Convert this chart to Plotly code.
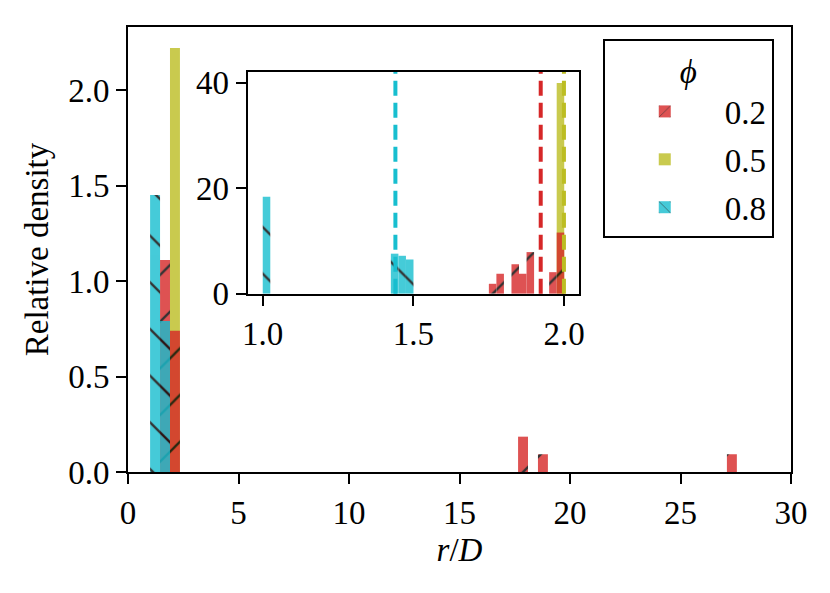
import plotly.graph_objects as go

# ---------------- data ----------------
phi_labels = ["0.2", "0.5", "0.8"]
colors = ["#d62728", "#bcbd22", "#17becf"]
hatches = ["/", "", "\\"]

# main histogram (shared bin width)
main_bin_width = 0.45
red_main_left = [1.45, 1.90, 17.65, 18.55, 27.10]
red_main_h = [1.11, 0.74, 0.185, 0.093, 0.093]
yellow_main_left = [1.90]
yellow_main_h = [2.22]
cyan_main_left = [1.00, 1.45]
cyan_main_h = [1.45, 0.79]

# inset histogram
inset_bin_width = 0.025
red_in_left = [1.75, 1.775, 1.825, 1.85, 1.875, 1.95, 1.975]
red_in_h = [1.9, 3.8, 5.6, 3.8, 7.9, 4.1, 11.6]
yellow_in_left = [1.975]
yellow_in_h = [39.9]
cyan_in_left = [1.0, 1.425, 1.45, 1.475]
cyan_in_h = [18.4, 7.6, 7.2, 6.5]

# means (dashed lines in inset)
means = [1.922, 1.999, 1.440]

x_ticks_main = [0, 5, 10, 15, 20, 25, 30]
y_ticks_main = [0.0, 0.5, 1.0, 1.5, 2.0]
x_ticks_in = [1.0, 1.5, 2.0]
y_ticks_in = [0, 20, 40]

FONT = "Liberation Serif"
FS = 33

main_series = [(red_main_left, red_main_h), (yellow_main_left, yellow_main_h), (cyan_main_left, cyan_main_h)]
inset_series = [(red_in_left, red_in_h), (yellow_in_left, yellow_in_h), (cyan_in_left, cyan_in_h)]


def pattern(i):
    if hatches[i]:
        return dict(shape=hatches[i], fgcolor="black", fgopacity=1, size=33, solidity=0.07)
    return dict(shape="")


fig = go.Figure()

# draw order: yellow, red, cyan (red over yellow, cyan over red)
order = [1, 0, 2]
for i in order:
    left, h = main_series[i]
    fig.add_trace(go.Bar(
        x=[l + main_bin_width / 2 for l in left], y=h, width=main_bin_width,
        marker=dict(color=colors[i], line=dict(width=0), pattern=pattern(i)),
        opacity=0.8, name=phi_labels[i], legendgroup=phi_labels[i], legendrank=i + 1,
        xaxis="x", yaxis="y", showlegend=True,
    ))
for i in order:
    left, h = inset_series[i]
    fig.add_trace(go.Bar(
        x=[l + inset_bin_width / 2 for l in left], y=h, width=inset_bin_width,
        marker=dict(color=colors[i], line=dict(width=0), pattern=pattern(i)),
        opacity=0.8, name=phi_labels[i], legendgroup=phi_labels[i],
        xaxis="x2", yaxis="y2", showlegend=False,
    ))

for i in range(3):
    fig.add_shape(type="line", xref="x2", yref="y2 domain", x0=means[i], x1=means[i], y0=0, y1=1,
                  line=dict(color=colors[i], width=4, dash="15px,7px"))

axis_common = dict(showline=True, linecolor="black", linewidth=2, mirror=True,
                   ticks="outside", ticklen=10, tickwidth=2, tickcolor="black",
                   showgrid=False, zeroline=False,
                   tickfont=dict(family=FONT, size=FS, color="black"))

# page body has an 8px margin: figure is 822x585 so it fits the 830x593 window
fig.update_layout(
    width=822, height=585,
    margin=dict(l=120, r=39, t=12, b=121),
    paper_bgcolor="white", plot_bgcolor="white",
    barmode="overlay",
    font=dict(family=FONT, size=FS, color="black"),
    xaxis=dict(range=[0, 30], tickvals=x_ticks_main, domain=[0, 1],
               title=dict(text="<i>r</i>/<i>D</i>", font=dict(family=FONT, size=FS), standoff=8),
               **axis_common),
    yaxis=dict(range=[0, 2.33], tickvals=y_ticks_main, tickformat=".1f", domain=[0, 1],
               title=dict(text="Relative density", font=dict(family=FONT, size=FS), standoff=10),
               **axis_common),
    xaxis2=dict(range=[0.95, 2.05], tickvals=x_ticks_in, tickformat=".1f",
                domain=[0.1805, 0.6807], anchor="y2", **axis_common),
    yaxis2=dict(range=[0, 42.0], tickvals=y_ticks_in,
                domain=[0.4004, 0.8989], anchor="x2", **axis_common),
    legend=dict(x=0.974, y=0.974, xanchor="right", yanchor="top",
                bgcolor="white", bordercolor="black", borderwidth=2,
                title=dict(text="<i>ϕ</i>", side="top center", font=dict(family=FONT, size=FS)),
                font=dict(family=FONT, size=FS), tracegroupgap=2, itemwidth=110),
)

fig.write_html("out.html")
